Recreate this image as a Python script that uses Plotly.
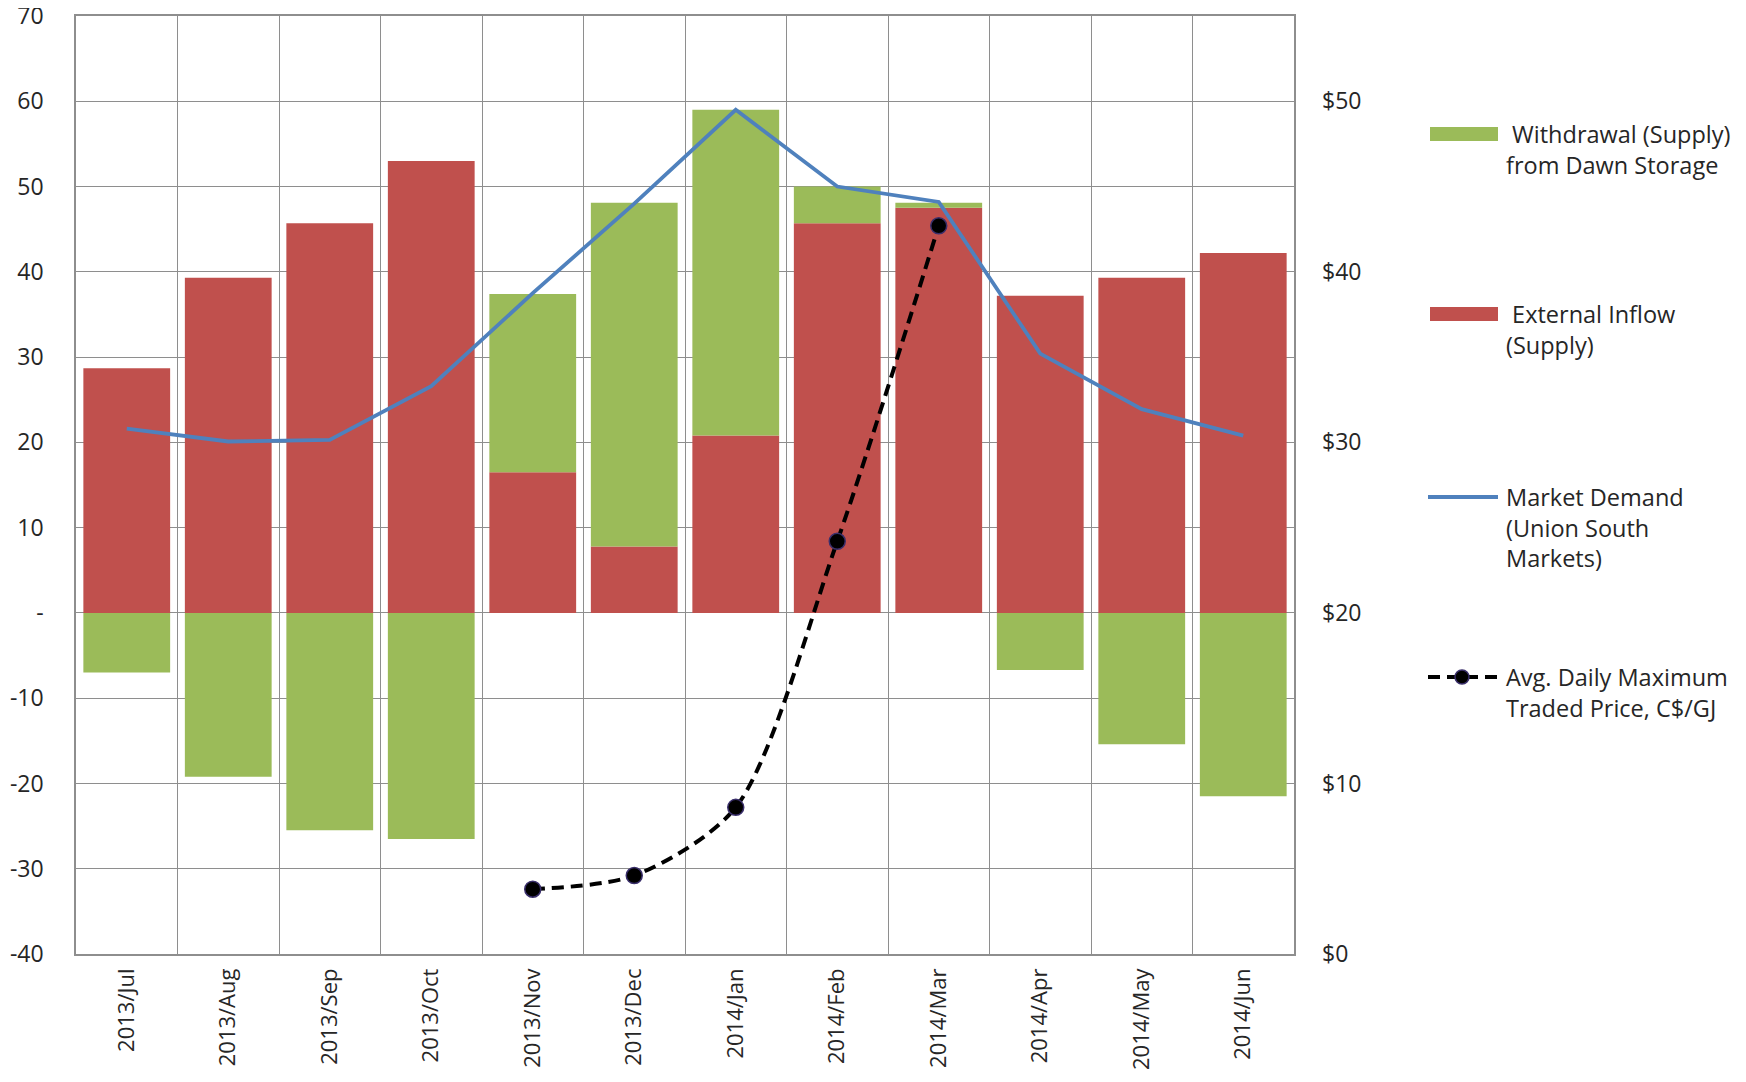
import plotly.graph_objects as go

months = ["2013/Jul", "2013/Aug", "2013/Sep", "2013/Oct", "2013/Nov", "2013/Dec",
          "2014/Jan", "2014/Feb", "2014/Mar", "2014/Apr", "2014/May", "2014/Jun"]
external_inflow = [28.7, 39.3, 45.7, 53.0, 16.5, 7.8, 20.8, 45.7, 47.5, 37.2, 39.3, 42.2]
withdrawal = [-7.0, -19.2, -25.5, -26.5, 20.9, 40.3, 38.2, 4.3, 0.6, -6.7, -15.4, -21.5]
market_demand = [21.6, 20.1, 20.3, 26.6, 37.5, 48.0, 59.0, 50.0, 48.2, 30.4, 23.9, 20.8]
price = [None, None, None, None, 3.8, 4.6, 8.6, 24.2, 42.7, None, None, None]

left_ticks = [-40, -30, -20, -10, 0, 10, 20, 30, 40, 50, 60, 70]
left_labels = ["-40", "-30", "-20", "-10", "-", "10", "20", "30", "40", "50", "60", "70"]
right_ticks = [0, 10, 20, 30, 40, 50]
right_labels = ["$0", "$10", "$20", "$30", "$40", "$50"]

legend_names = ["\u00a0Withdrawal (Supply)<br>from Dawn Storage",
                "\u00a0External Inflow<br>(Supply)",
                "Market Demand<br>(Union South<br>Markets)",
                "Avg. Daily Maximum<br>Traded Price, C$/GJ"]

RED = "#C0504D"
GREEN = "#9BBB59"
BLUE = "#4F81BD"
GRID = "#8E8E8E"
TXT = "#262626"
FONT = "Open Sans, Liberation Sans, sans-serif"

# page has an 8px body margin; figure sized to fit inside the window
OFF = 8
W, H = 1746 - 2 * OFF, 1082 - 2 * OFF
# plot area in window pixels: x 76..1294, y 16..954
L, T = 76 - OFF, 16 - OFF
R = W - (1294 - OFF)
B = H - (954 - OFF)
PW, PH = W - L - R, H - T - B


def px(x):
    return (x - OFF - L) / PW


def py(y):
    return (H - B - (y - OFF)) / PH


fig = go.Figure()
fig.add_trace(go.Bar(x=months, y=external_inflow, marker=dict(color=RED, line=dict(width=0)),
                     name="External Inflow (Supply)", showlegend=False))
fig.add_trace(go.Bar(x=months, y=withdrawal, marker=dict(color=GREEN, line=dict(width=0)),
                     name="Withdrawal (Supply) from Dawn Storage", showlegend=False))
fig.add_trace(go.Scatter(x=months, y=market_demand, mode="lines", line=dict(color=BLUE, width=3.8),
                         name="Market Demand", showlegend=False))
fig.add_trace(go.Scatter(x=months, y=price, mode="lines+markers", yaxis="y2",
                         line=dict(color="black", width=4, dash="12px,7px", shape="spline",
                                   smoothing=0.8),
                         marker=dict(color="black", size=16, line=dict(color="#3a2f6b", width=1.5)),
                         name="Avg. Daily Maximum Traded Price", showlegend=False))

fig.update_layout(
    width=W, height=H,
    margin=dict(l=L, r=R, t=T, b=B, autoexpand=False),
    paper_bgcolor="white", plot_bgcolor="white",
    barmode="relative", bargap=0.145,
    font=dict(family=FONT, color=TXT),
    xaxis=dict(type="category", range=[-0.5, 11.5], tickson="boundaries", showgrid=True,
               gridcolor=GRID, gridwidth=1, automargin=False,
               showline=True, linecolor=GRID, linewidth=1.5, mirror=True,
               ticks="", tickangle=-90, tickfont=dict(size=22, family=FONT, color=TXT),
               ticklabelstandoff=4),
    yaxis=dict(range=[-40.001, 70.001], tickvals=left_ticks, ticktext=left_labels, showgrid=True,
               gridcolor=GRID, gridwidth=1, zeroline=False, showline=True, linecolor=GRID,
               linewidth=1.5, mirror=True, ticks="", automargin=False, ticklabeloverflow="allow",
               tickfont=dict(size=23, family=FONT, color=TXT), ticklabelstandoff=26),
    yaxis2=dict(range=[-0.0005, 55.0005], overlaying="y", side="right", tickvals=right_ticks,
                ticktext=right_labels, showgrid=False, zeroline=False, showline=False, ticks="",
                automargin=False, ticklabeloverflow="allow",
                tickfont=dict(size=23, family=FONT, color=TXT), ticklabelstandoff=27),
)

# manual legend (positions in window pixels)
shapes = []
annots = []
text_x = 1504
shapes.append(dict(type="rect", xref="paper", yref="paper", x0=px(1430), x1=px(1498),
                   y0=py(141), y1=py(127), fillcolor=GREEN, line=dict(width=0)))
shapes.append(dict(type="rect", xref="paper", yref="paper", x0=px(1430), x1=px(1498),
                   y0=py(321), y1=py(307), fillcolor=RED, line=dict(width=0)))
shapes.append(dict(type="line", xref="paper", yref="paper", x0=px(1428), x1=px(1498),
                   y0=py(497), y1=py(497), line=dict(color=BLUE, width=3.8)))
shapes.append(dict(type="line", xref="paper", yref="paper", x0=px(1428), x1=px(1498),
                   y0=py(677), y1=py(677), line=dict(color="black", width=4, dash="12px,7px")))
shapes.append(dict(type="circle", xref="paper", yref="paper", x0=px(1455), x1=px(1469),
                   y0=py(684), y1=py(670), fillcolor="black", line=dict(color="#3a2f6b", width=1.5)))

legend_tops = [116, 296, 479, 659]
for name, top in zip(legend_names, legend_tops):
    annots.append(dict(xref="paper", yref="paper", x=px(text_x), y=py(top), text=name,
                       showarrow=False, xanchor="left", yanchor="top", align="left",
                       font=dict(size=23.5, family=FONT, color=TXT)))

fig.update_layout(shapes=shapes, annotations=annots)
fig.write_html("out.html")
